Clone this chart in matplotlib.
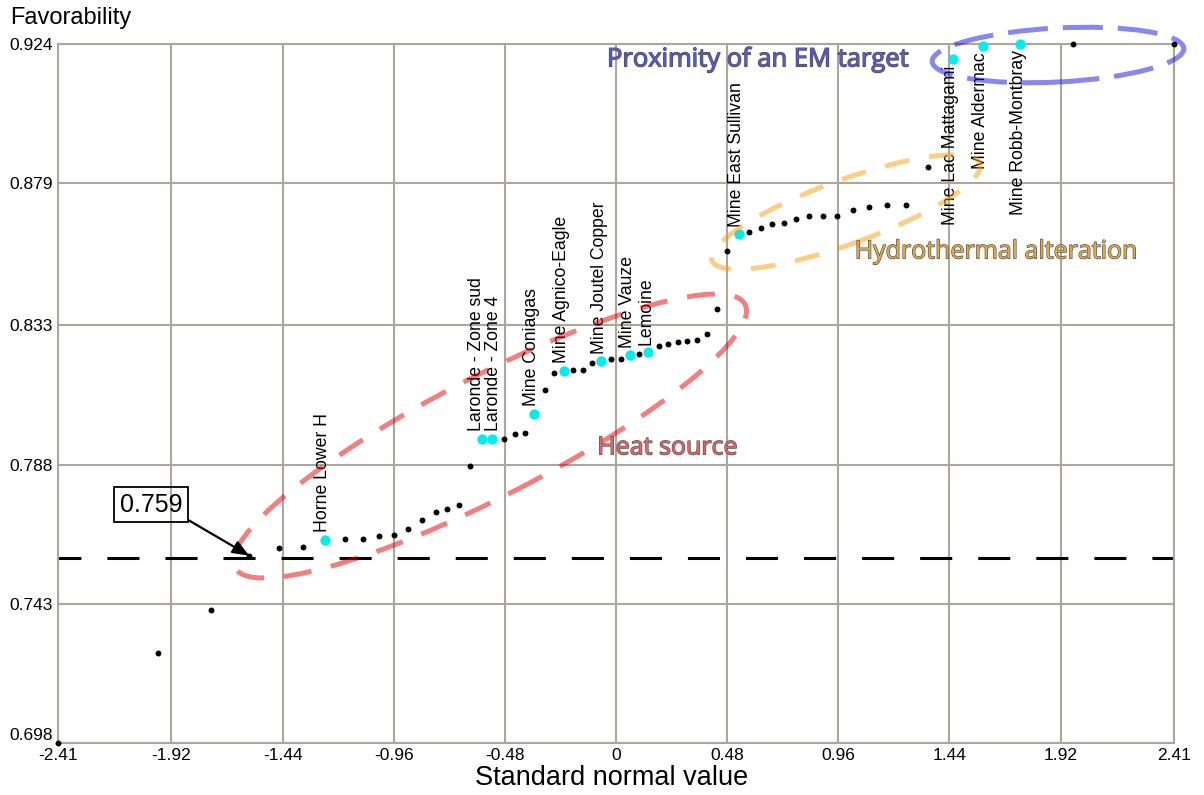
import matplotlib
matplotlib.use("Agg")
import matplotlib.pyplot as plt
from matplotlib.patches import Ellipse
from matplotlib.transforms import IdentityTransform
import matplotlib.patheffects as pe

# ---------------- data ----------------
other_x = [-2.41, -1.978, -1.749, -1.584, -1.457, -1.352, -1.172, -1.093, -1.025, -0.959,
           -0.897, -0.837, -0.779, -0.730, -0.679, -0.629, -0.484, -0.436, -0.393, -0.308,
           -0.269, -0.184, -0.141, -0.102, -0.023, 0.020, 0.101, 0.184, 0.225, 0.268,
           0.308, 0.351, 0.392, 0.435, 0.481, 0.576, 0.625, 0.675, 0.727, 0.777,
           0.832, 0.895, 0.956, 1.024, 1.091, 1.170, 1.252, 1.347, 1.974, 2.41]
other_y = [0.698, 0.7272, 0.7410, 0.7586, 0.7611, 0.7615, 0.7639, 0.7640, 0.7648, 0.7653,
           0.7672, 0.7702, 0.7727, 0.7736, 0.7749, 0.7875, 0.7963, 0.7978, 0.7982, 0.8121,
           0.8177, 0.8187, 0.8187, 0.8208, 0.8222, 0.8222, 0.8238, 0.8264, 0.8270, 0.8276,
           0.8280, 0.8283, 0.8301, 0.8382, 0.8569, 0.8631, 0.8645, 0.8657, 0.8661, 0.8673,
           0.8683, 0.8683, 0.8683, 0.8702, 0.8712, 0.8719, 0.8719, 0.8841, 0.924, 0.924]

deposit_names = ["Horne Lower H", "Laronde - Zone sud", "Laronde - Zone 4", "Mine Coniagas",
                 "Mine Agnico-Eagle", "Mine Joutel Copper", "Mine Vauze", "Lemoine",
                 "Mine East Sullivan", "Mine Lac Mattagami", "Mine Aldermac", "Mine Robb-Montbray"]
deposit_x = [-1.257, -0.577, -0.534, -0.354, -0.226, -0.063, 0.060, 0.138, 0.531, 1.454, 1.584, 1.746]
deposit_y = [0.7637, 0.7963, 0.7963, 0.8044, 0.8183, 0.8214, 0.8233, 0.8243, 0.8624, 0.9189, 0.9231, 0.924]

threshold = 0.758
threshold_label = "0.759"

x_ticks = [-2.41, -1.92, -1.44, -0.96, -0.48, 0, 0.48, 0.96, 1.44, 1.92, 2.41]
x_tick_labels = ["-2.41", "-1.92", "-1.44", "-0.96", "-0.48", "0", "0.48", "0.96", "1.44", "1.92", "2.41"]
y_ticks = [0.698, 0.743, 0.788, 0.833, 0.879, 0.924]
y_tick_labels = ["0.698", "0.743", "0.788", "0.833", "0.879", "0.924"]

# ---------------- figure ----------------
W, H = 1204, 795
fig = plt.figure(figsize=(W / 100, H / 100), dpi=100)
ax = fig.add_axes([58 / W, 1 - 743.3 / H, 1116 / W, 699.8 / H])
ax.set_xlim(-2.41, 2.41)
ax.set_ylim(0.698, 0.924)

FONT = "Liberation Sans"
grid_c = "#aca899"
ax.set_xticks(x_ticks)
ax.set_xticklabels(x_tick_labels, family=FONT, fontsize=12.5)
ax.set_yticks(y_ticks)
ax.set_yticklabels(y_tick_labels, family=FONT, fontsize=12.5)
ax.yaxis.get_ticklabels()[0].set_va("bottom")
ax.tick_params(length=0, pad=3.5)
ax.grid(True, color=grid_c, lw=1.5, zorder=0)
ax.set_axisbelow(True)
for s in ax.spines.values():
    s.set_color(grid_c)
    s.set_linewidth(1.5)

fig.text(10 / W, 1 - 18 / H, "Favorability", family=FONT, fontsize=17, ha="left", va="center")
fig.text(612 / W, 1 - 778 / H, "Standard normal value", family=FONT, fontsize=19.5, ha="center", va="center")

# threshold line
ax.axhline(threshold, color="black", lw=2.2, linestyle=(3, (10.5, 8.5)), zorder=2)

# points
ax.scatter(other_x, other_y, s=18, color="black", zorder=4, clip_on=False, linewidths=0)
ax.scatter(deposit_x, deposit_y, s=55, color="#00eeee", zorder=5, clip_on=False, linewidths=0)

below = {"Mine Lac Mattagami", "Mine Aldermac", "Mine Robb-Montbray"}
shift_left = {"Laronde - Zone sud": -4.0, "Laronde - Zone 4": 0.5}
for name, xv, yv in zip(deposit_names, deposit_x, deposit_y):
    dx = shift_left.get(name, -1.5)
    if name in below:
        ax.annotate(name, (xv, yv), xytext=(dx, -4.5), textcoords="offset points",
                    rotation=90, ha="center", va="top", family=FONT, fontsize=12.7, zorder=6)
    else:
        ax.annotate(name, (xv, yv), xytext=(dx, 5.5), textcoords="offset points",
                    rotation=90, ha="center", va="bottom", family=FONT, fontsize=12.7, zorder=6)

# ellipses (display pixel coordinates, y measured from top in the source image)
def add_ellipse(cx, cy, w, h, ang, color, dashes):
    e = Ellipse((cx, H - cy), w, h, angle=ang, transform=IdentityTransform(),
                fill=False, ec=color, lw=3.6, alpha=0.5, linestyle=(0, dashes), zorder=8,
                clip_on=False)
    ax.add_artist(e)

add_ellipse(490, 436, 574, 120, 27.3, "#e60000", (5.6, 4.0))
add_ellipse(846, 212, 285, 64, 20, "#fb9d0d", (5.0, 4.0))
add_ellipse(1058, 55, 252, 54, 3, "#1010e0", (8.0, 3.0))

# threshold annotation box (drawn above the ellipses)
ann = ax.annotate(threshold_label, xy=(other_x[3], other_y[3]), xytext=(-2.008, 0.7751),
                  textcoords="data", ha="center", va="center", family=FONT, fontsize=18,
                  bbox=dict(boxstyle="square,pad=0.22", fc="none", ec="black", lw=1.3),
                  arrowprops=dict(arrowstyle="-|>,head_length=0.55,head_width=0.22", color="black",
                                  lw=1.6, shrinkA=0, shrinkB=0, relpos=(1, 0)))
ann.set_zorder(10)

ANN = "Open Sans"
stroke = [pe.Stroke(linewidth=0.9, foreground="#4a4a4a"), pe.Normal()]
ax.text(0.611, 0.9187, "Proximity of an EM target", family=ANN, fontsize=18.4, color="#5a5ac8",
        ha="center", va="center", path_effects=stroke, zorder=9)
ax.text(1.641, 0.8567, "Hydrothermal alteration", family=ANN, fontsize=18, color="#e6a84a",
        ha="center", va="center", path_effects=stroke, zorder=9)
ax.text(0.222, 0.7934, "Heat source", family=ANN, fontsize=18, color="#e86464",
        ha="center", va="center", path_effects=stroke, zorder=9)

fig.savefig("out.png", dpi=100)
